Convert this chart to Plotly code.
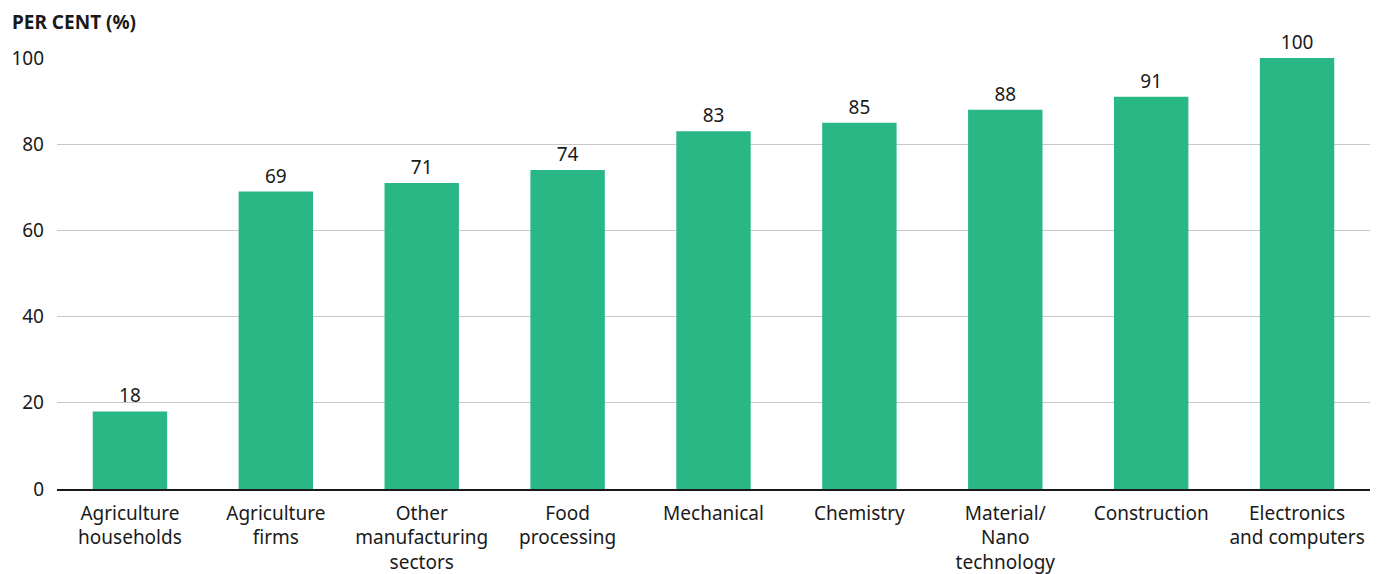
import plotly.graph_objects as go

categories = ["Agriculture<br>households", "Agriculture<br>firms", "Other<br>manufacturing<br>sectors",
              "Food<br>processing", "Mechanical", "Chemistry", "Material/<br>Nano<br>technology",
              "Construction", "Electronics<br>and computers"]
values = [18, 69, 71, 74, 83, 85, 88, 91, 100]
y_ticks = [0, 20, 40, 60, 80, 100]

FONT = "Noto Sans"
W, H = 1370, 566
L, R, T, B = 49, 8, 50, 85
fig = go.Figure(go.Bar(
    x=categories, y=values, marker=dict(color="#2ab786", line=dict(width=0)),
    text=[str(v) for v in values], textposition="outside", cliponaxis=False,
    textfont=dict(size=19, color="#1a1a1a", family=FONT),
))
fig.update_layout(
    width=W, height=H,
    margin=dict(l=L, r=R, t=T, b=B),
    plot_bgcolor="white", paper_bgcolor="white",
    bargap=0.49, showlegend=False,
    font=dict(family=FONT, size=19, color="#1a1a1a"),
    xaxis=dict(showgrid=False, ticks="", showline=True, linecolor="#1a1a1a", linewidth=1.5,
               tickfont=dict(size=19), ticklabelstandoff=6, automargin=False),
    yaxis=dict(range=[0, 100], tickvals=y_ticks, showgrid=True, gridcolor="#c8c8c8", gridwidth=1,
               zeroline=False, ticks="", ticklabelstandoff=12, tickfont=dict(size=19),
               automargin=False),
    annotations=[dict(text="<b>PER CENT (%)</b>", xref="paper", yref="paper",
                      x=(2 - L) / (W - L - R), y=1 + (T - 14) / (H - T - B),
                      xanchor="left", yanchor="middle", showarrow=False,
                      font=dict(size=19, color="#1a1a1a"))],
)
fig.write_html("out.html")
